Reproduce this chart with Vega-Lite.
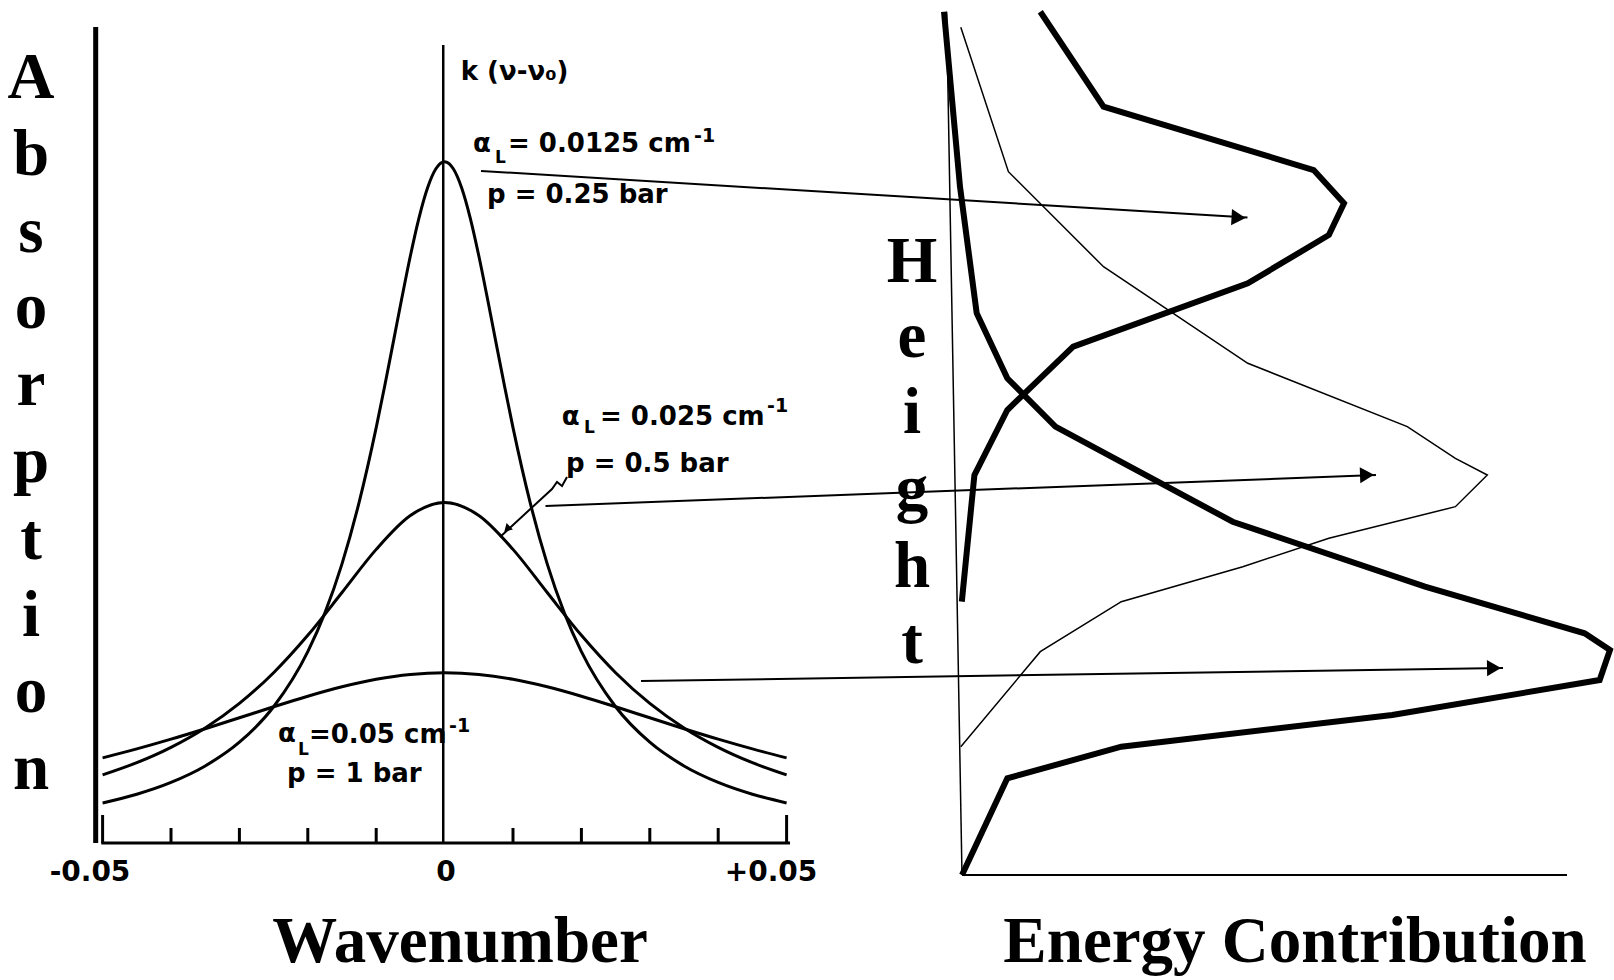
{
  "$schema": "https://vega.github.io/schema/vega-lite/v6.json",
  "width": 1614,
  "height": 980,
  "autosize": {"type": "none"},
  "padding": 0,
  "background": "white",
  "config": {"view": {"stroke": null}},
  "resolve": {"scale": {"x": "independent", "y": "independent"}},
  "layer": [
    {
      "data": {"values": [{"nu": -0.05101, "k": 4.7915, "nu2": -0.05101, "k2": 0}]},
      "mark": {"type": "rule", "color": "black", "strokeWidth": 5},
      "encoding": {
        "x": {"field": "nu", "type": "quantitative", "scale": {"domain": [-0.065, 0.170965], "nice": false, "zero": false}, "axis": null},
        "x2": {"field": "nu2"},
        "y": {"field": "k", "type": "quantitative", "scale": {"domain": [-0.80446, 4.95009], "nice": false, "zero": false}, "axis": null},
        "y2": {"field": "k2"}
      }
    },
    {
      "data": {"values": [
        {"nu": -0.0502, "k": 0, "nu2": 0.0505, "k2": 0},
        {"nu": -0.05, "k": 0, "nu2": -0.05, "k2": 0.1644},
        {"nu": -0.04, "k": 0, "nu2": -0.04, "k2": 0.0881},
        {"nu": -0.03, "k": 0, "nu2": -0.03, "k2": 0.0881},
        {"nu": -0.02, "k": 0, "nu2": -0.02, "k2": 0.0881},
        {"nu": -0.01, "k": 0, "nu2": -0.01, "k2": 0.0881},
        {"nu": 0.01, "k": 0, "nu2": 0.01, "k2": 0.0881},
        {"nu": 0.02, "k": 0, "nu2": 0.02, "k2": 0.0881},
        {"nu": 0.03, "k": 0, "nu2": 0.03, "k2": 0.0881},
        {"nu": 0.04, "k": 0, "nu2": 0.04, "k2": 0.0881},
        {"nu": 0.05, "k": 0, "nu2": 0.05, "k2": 0.1644}
      ]},
      "mark": {"type": "rule", "color": "black", "strokeWidth": 3},
      "encoding": {
        "x": {"field": "nu", "type": "quantitative", "scale": {"domain": [-0.065, 0.170965], "nice": false, "zero": false}, "axis": null},
        "x2": {"field": "nu2"},
        "y": {"field": "k", "type": "quantitative", "scale": {"domain": [-0.80446, 4.95009], "nice": false, "zero": false}, "axis": null},
        "y2": {"field": "k2"}
      }
    },
    {
      "data": {"values": [{"nu": -0.0002, "k": 4.6858, "nu2": -0.0002, "k2": 0}]},
      "mark": {"type": "rule", "color": "black", "strokeWidth": 2.5},
      "encoding": {
        "x": {"field": "nu", "type": "quantitative", "scale": {"domain": [-0.065, 0.170965], "nice": false, "zero": false}, "axis": null},
        "x2": {"field": "nu2"},
        "y": {"field": "k", "type": "quantitative", "scale": {"domain": [-0.80446, 4.95009], "nice": false, "zero": false}, "axis": null},
        "y2": {"field": "k2"}
      }
    },
    {
      "data": {"values": [
        {"l": "c", "nu": -0.05, "k": 0.5}, {"l": "c", "nu": -0.045, "k": 0.55249}, {"l": "c", "nu": -0.04, "k": 0.60976}, {"l": "c", "nu": -0.035, "k": 0.67114}, {"l": "c", "nu": -0.03, "k": 0.73529}, {"l": "c", "nu": -0.025, "k": 0.8}, {"l": "c", "nu": -0.02, "k": 0.86207}, {"l": "c", "nu": -0.015, "k": 0.91743}, {"l": "c", "nu": -0.01, "k": 0.96154}, {"l": "c", "nu": -0.005, "k": 0.9901}, {"l": "c", "nu": 0, "k": 1},
        {"l": "c", "nu": 0.005, "k": 0.9901}, {"l": "c", "nu": 0.01, "k": 0.96154}, {"l": "c", "nu": 0.015, "k": 0.91743}, {"l": "c", "nu": 0.02, "k": 0.86207}, {"l": "c", "nu": 0.025, "k": 0.8}, {"l": "c", "nu": 0.03, "k": 0.73529}, {"l": "c", "nu": 0.035, "k": 0.67114}, {"l": "c", "nu": 0.04, "k": 0.60976}, {"l": "c", "nu": 0.045, "k": 0.55249}, {"l": "c", "nu": 0.05, "k": 0.5},
        {"l": "b", "nu": -0.05, "k": 0.4}, {"l": "b", "nu": -0.045, "k": 0.4717}, {"l": "b", "nu": -0.04, "k": 0.5618}, {"l": "b", "nu": -0.035, "k": 0.67568}, {"l": "b", "nu": -0.03, "k": 0.81967}, {"l": "b", "nu": -0.025, "k": 1}, {"l": "b", "nu": -0.02, "k": 1.21951}, {"l": "b", "nu": -0.015, "k": 1.47059}, {"l": "b", "nu": -0.01, "k": 1.72414}, {"l": "b", "nu": -0.005, "k": 1.92308}, {"l": "b", "nu": 0, "k": 2},
        {"l": "b", "nu": 0.005, "k": 1.92308}, {"l": "b", "nu": 0.01, "k": 1.72414}, {"l": "b", "nu": 0.015, "k": 1.47059}, {"l": "b", "nu": 0.02, "k": 1.21951}, {"l": "b", "nu": 0.025, "k": 1}, {"l": "b", "nu": 0.03, "k": 0.81967}, {"l": "b", "nu": 0.035, "k": 0.67568}, {"l": "b", "nu": 0.04, "k": 0.5618}, {"l": "b", "nu": 0.045, "k": 0.4717}, {"l": "b", "nu": 0.05, "k": 0.4},
        {"l": "a", "nu": -0.05, "k": 0.23529}, {"l": "a", "nu": -0.045, "k": 0.28653}, {"l": "a", "nu": -0.04, "k": 0.35587}, {"l": "a", "nu": -0.035, "k": 0.45249}, {"l": "a", "nu": -0.03, "k": 0.59172}, {"l": "a", "nu": -0.025, "k": 0.8}, {"l": "a", "nu": -0.02, "k": 1.1236}, {"l": "a", "nu": -0.0175, "k": 1.35135}, {"l": "a", "nu": -0.015, "k": 1.63934}, {"l": "a", "nu": -0.0125, "k": 2}, {"l": "a", "nu": -0.01, "k": 2.43902}, {"l": "a", "nu": -0.00875, "k": 2.68456}, {"l": "a", "nu": -0.0075, "k": 2.94118}, {"l": "a", "nu": -0.00625, "k": 3.2}, {"l": "a", "nu": -0.005, "k": 3.44828}, {"l": "a", "nu": -0.00375, "k": 3.66972}, {"l": "a", "nu": -0.0025, "k": 3.84615}, {"l": "a", "nu": -0.00125, "k": 3.9604}, {"l": "a", "nu": 0, "k": 4},
        {"l": "a", "nu": 0.00125, "k": 3.9604}, {"l": "a", "nu": 0.0025, "k": 3.84615}, {"l": "a", "nu": 0.00375, "k": 3.66972}, {"l": "a", "nu": 0.005, "k": 3.44828}, {"l": "a", "nu": 0.00625, "k": 3.2}, {"l": "a", "nu": 0.0075, "k": 2.94118}, {"l": "a", "nu": 0.00875, "k": 2.68456}, {"l": "a", "nu": 0.01, "k": 2.43902}, {"l": "a", "nu": 0.0125, "k": 2}, {"l": "a", "nu": 0.015, "k": 1.63934}, {"l": "a", "nu": 0.0175, "k": 1.35135}, {"l": "a", "nu": 0.02, "k": 1.1236}, {"l": "a", "nu": 0.025, "k": 0.8}, {"l": "a", "nu": 0.03, "k": 0.59172}, {"l": "a", "nu": 0.035, "k": 0.45249}, {"l": "a", "nu": 0.04, "k": 0.35587}, {"l": "a", "nu": 0.045, "k": 0.28653}, {"l": "a", "nu": 0.05, "k": 0.23529}
      ]},
      "mark": {"type": "line", "color": "black", "strokeWidth": 3, "interpolate": "monotone"},
      "encoding": {
        "x": {"field": "nu", "type": "quantitative", "scale": {"domain": [-0.065, 0.170965], "nice": false, "zero": false}, "axis": null},
        "y": {"field": "k", "type": "quantitative", "scale": {"domain": [-0.80446, 4.95009], "nice": false, "zero": false}, "axis": null},
        "detail": {"field": "l", "type": "nominal"}
      }
    },
    {
      "data": {"values": [
        {"o": 1, "nu": 0.017895, "k": 2.14915},
        {"o": 2, "nu": 0.017164, "k": 2.0963},
        {"o": 3, "nu": 0.016433, "k": 2.1198},
        {"o": 4, "nu": 0.015702, "k": 2.0787},
        {"o": 5, "nu": 0.008099, "k": 1.79683}
      ]},
      "mark": {"type": "line", "color": "black", "strokeWidth": 2},
      "encoding": {
        "x": {"field": "nu", "type": "quantitative", "scale": {"domain": [-0.065, 0.170965], "nice": false, "zero": false}, "axis": null},
        "y": {"field": "k", "type": "quantitative", "scale": {"domain": [-0.80446, 4.95009], "nice": false, "zero": false}, "axis": null},
        "order": {"field": "o", "type": "quantitative"}
      }
    },
    {
      "data": {"values": [{"nu": 0.009123, "k": 1.8438}]},
      "mark": {"type": "point", "shape": "triangle-right", "angle": 135, "size": 80, "filled": true, "color": "black", "opacity": 1},
      "encoding": {
        "x": {"field": "nu", "type": "quantitative", "scale": {"domain": [-0.065, 0.170965], "nice": false, "zero": false}, "axis": null},
        "y": {"field": "k", "type": "quantitative", "scale": {"domain": [-0.80446, 4.95009], "nice": false, "zero": false}, "axis": null}
      }
    },
    {
      "data": {"values": [
        {"t": "k (ν-ν₀)", "nu": 0.002354, "k": 4.4803},
        {"t": "α", "nu": 0.004152, "k": 4.0593},
        {"t": "= 0.0125 cm", "nu": 0.009269, "k": 4.0593},
        {"t": "p = 0.25 bar", "nu": 0.006199, "k": 3.7581},
        {"t": "α", "nu": 0.01712, "k": 2.4545},
        {"t": "= 0.025 cm", "nu": 0.022719, "k": 2.4545},
        {"t": "p = 0.5 bar", "nu": 0.017749, "k": 2.1785},
        {"t": "α", "nu": -0.024357, "k": 0.59483},
        {"t": "=0.05 cm", "nu": -0.019825, "k": 0.5872},
        {"t": "p = 1 bar", "nu": -0.023041, "k": 0.35995}
      ]},
      "mark": {"type": "text", "font": "DejaVu Sans", "fontWeight": "bold", "fontSize": 26, "align": "left", "baseline": "alphabetic", "color": "black"},
      "encoding": {
        "x": {"field": "nu", "type": "quantitative", "scale": {"domain": [-0.065, 0.170965], "nice": false, "zero": false}, "axis": null},
        "y": {"field": "k", "type": "quantitative", "scale": {"domain": [-0.80446, 4.95009], "nice": false, "zero": false}, "axis": null},
        "text": {"field": "t", "type": "nominal"}
      }
    },
    {
      "data": {"values": [
        {"t": "-1", "nu": 0.036462, "k": 4.11626},
        {"t": "-1", "nu": 0.047135, "k": 2.53083},
        {"t": "-1", "nu": 0.000643, "k": 0.65179}
      ]},
      "mark": {"type": "text", "font": "DejaVu Sans", "fontWeight": "bold", "fontSize": 19, "align": "left", "baseline": "alphabetic", "color": "black"},
      "encoding": {
        "x": {"field": "nu", "type": "quantitative", "scale": {"domain": [-0.065, 0.170965], "nice": false, "zero": false}, "axis": null},
        "y": {"field": "k", "type": "quantitative", "scale": {"domain": [-0.80446, 4.95009], "nice": false, "zero": false}, "axis": null},
        "text": {"field": "t", "type": "nominal"}
      }
    },
    {
      "data": {"values": [
        {"t": "L", "nu": 0.007368, "k": 3.993},
        {"t": "L", "nu": 0.02038, "k": 2.4075},
        {"t": "L", "nu": -0.021433, "k": 0.51674}
      ]},
      "mark": {"type": "text", "font": "DejaVu Sans", "fontWeight": "bold", "fontSize": 17, "align": "left", "baseline": "alphabetic", "color": "black"},
      "encoding": {
        "x": {"field": "nu", "type": "quantitative", "scale": {"domain": [-0.065, 0.170965], "nice": false, "zero": false}, "axis": null},
        "y": {"field": "k", "type": "quantitative", "scale": {"domain": [-0.80446, 4.95009], "nice": false, "zero": false}, "axis": null},
        "text": {"field": "t", "type": "nominal"}
      }
    },
    {
      "data": {"values": [
        {"t": "-0.05", "nu": -0.051842, "k": -0.22314},
        {"t": "0", "nu": 0.0002, "k": -0.22314},
        {"t": "+0.05", "nu": 0.047719, "k": -0.22314}
      ]},
      "mark": {"type": "text", "font": "DejaVu Sans", "fontWeight": "bold", "fontSize": 28, "align": "center", "baseline": "alphabetic", "color": "black"},
      "encoding": {
        "x": {"field": "nu", "type": "quantitative", "scale": {"domain": [-0.065, 0.170965], "nice": false, "zero": false}, "axis": null},
        "y": {"field": "k", "type": "quantitative", "scale": {"domain": [-0.80446, 4.95009], "nice": false, "zero": false}, "axis": null},
        "text": {"field": "t", "type": "nominal"}
      }
    },
    {
      "data": {"values": [
        {"t": "Wavenumber", "nu": 0.002251, "k": -0.69877},
        {"t": "A", "nu": -0.060468, "k": 4.37463},
        {"t": "b", "nu": -0.060468, "k": 3.92249},
        {"t": "s", "nu": -0.060468, "k": 3.47035},
        {"t": "o", "nu": -0.060468, "k": 3.02408},
        {"t": "r", "nu": -0.060468, "k": 2.57193},
        {"t": "p", "nu": -0.060468, "k": 2.11979},
        {"t": "t", "nu": -0.060468, "k": 1.66765},
        {"t": "i", "nu": -0.060468, "k": 1.2155},
        {"t": "o", "nu": -0.060468, "k": 0.76923},
        {"t": "n", "nu": -0.060468, "k": 0.31709}
      ]},
      "mark": {"type": "text", "font": "Liberation Serif", "fontWeight": "bold", "fontSize": 65, "align": "center", "baseline": "alphabetic", "color": "black"},
      "encoding": {
        "x": {"field": "nu", "type": "quantitative", "scale": {"domain": [-0.065, 0.170965], "nice": false, "zero": false}, "axis": null},
        "y": {"field": "k", "type": "quantitative", "scale": {"domain": [-0.80446, 4.95009], "nice": false, "zero": false}, "axis": null},
        "text": {"field": "t", "type": "nominal"}
      }
    },
    {
      "data": {"values": [{"E": -2.545, "h": 99.8, "E2": 0, "h2": 0}]},
      "mark": {"type": "rule", "color": "black", "strokeWidth": 1.5},
      "encoding": {
        "x": {"field": "E", "type": "quantitative", "scale": {"domain": [-159.0083, 107.7686], "nice": false, "zero": false}, "axis": null},
        "x2": {"field": "E2"},
        "y": {"field": "h", "type": "quantitative", "scale": {"domain": [-12.1387, 101.1561], "nice": false, "zero": false}, "axis": null},
        "y2": {"field": "h2"}
      }
    },
    {
      "data": {"values": [{"E": 0, "h": 0, "E2": 100, "h2": 0}]},
      "mark": {"type": "rule", "color": "black", "strokeWidth": 2},
      "encoding": {
        "x": {"field": "E", "type": "quantitative", "scale": {"domain": [-159.0083, 107.7686], "nice": false, "zero": false}, "axis": null},
        "x2": {"field": "E2"},
        "y": {"field": "h", "type": "quantitative", "scale": {"domain": [-12.1387, 101.1561], "nice": false, "zero": false}, "axis": null},
        "y2": {"field": "h2"}
      }
    },
    {
      "data": {"values": [
        {"c": "C", "o": 1, "E": -0.2, "h": 98.0},
        {"c": "C", "o": 2, "E": 7.67, "h": 81.31},
        {"c": "C", "o": 3, "E": 23.39, "h": 70.32},
        {"c": "C", "o": 4, "E": 47.24, "h": 59.16},
        {"c": "C", "o": 5, "E": 73.6, "h": 51.83},
        {"c": "C", "o": 6, "E": 81.55, "h": 48.17},
        {"c": "C", "o": 7, "E": 86.83, "h": 46.24},
        {"c": "C", "o": 8, "E": 81.55, "h": 42.58},
        {"c": "C", "o": 9, "E": 60.64, "h": 38.92},
        {"c": "C", "o": 10, "E": 46.41, "h": 35.64},
        {"c": "C", "o": 11, "E": 26.33, "h": 31.6},
        {"c": "C", "o": 12, "E": 12.94, "h": 25.82},
        {"c": "C", "o": 13, "E": -0.2, "h": 14.83}
      ]},
      "mark": {"type": "line", "color": "black", "strokeWidth": 1.5},
      "encoding": {
        "x": {"field": "E", "type": "quantitative", "scale": {"domain": [-159.0083, 107.7686], "nice": false, "zero": false}, "axis": null},
        "y": {"field": "h", "type": "quantitative", "scale": {"domain": [-12.1387, 101.1561], "nice": false, "zero": false}, "axis": null},
        "detail": {"field": "c", "type": "nominal"},
        "order": {"field": "o", "type": "quantitative"}
      }
    },
    {
      "data": {"values": [
        {"c": "A", "o": 1, "E": -2.975, "h": 99.8},
        {"c": "A", "o": 2, "E": -0.33, "h": 79.57},
        {"c": "A", "o": 3, "E": 2.43, "h": 64.94},
        {"c": "A", "o": 4, "E": 7.49, "h": 57.42},
        {"c": "A", "o": 5, "E": 15.44, "h": 51.83},
        {"c": "A", "o": 6, "E": 44.74, "h": 40.84},
        {"c": "A", "o": 7, "E": 76.53, "h": 33.33},
        {"c": "A", "o": 8, "E": 102.91, "h": 27.94},
        {"c": "A", "o": 9, "E": 107.1, "h": 26.01},
        {"c": "A", "o": 10, "E": 105.4, "h": 22.54},
        {"c": "A", "o": 11, "E": 71.11, "h": 18.5},
        {"c": "A", "o": 12, "E": 26.33, "h": 14.83},
        {"c": "A", "o": 13, "E": 7.49, "h": 11.18},
        {"c": "A", "o": 14, "E": 0, "h": 0},
        {"c": "B", "o": 1, "E": 12.94, "h": 99.8},
        {"c": "B", "o": 2, "E": 23.39, "h": 88.82},
        {"c": "B", "o": 3, "E": 58.13, "h": 81.5},
        {"c": "B", "o": 4, "E": 63.14, "h": 77.65},
        {"c": "B", "o": 5, "E": 60.64, "h": 73.99},
        {"c": "B", "o": 6, "E": 47.24, "h": 68.4},
        {"c": "B", "o": 7, "E": 18.38, "h": 61.08},
        {"c": "B", "o": 8, "E": 7.49, "h": 53.76},
        {"c": "B", "o": 9, "E": 2.05, "h": 46.24},
        {"c": "B", "o": 10, "E": -0.03, "h": 31.6}
      ]},
      "mark": {"type": "line", "color": "black", "strokeWidth": 6},
      "encoding": {
        "x": {"field": "E", "type": "quantitative", "scale": {"domain": [-159.0083, 107.7686], "nice": false, "zero": false}, "axis": null},
        "y": {"field": "h", "type": "quantitative", "scale": {"domain": [-12.1387, 101.1561], "nice": false, "zero": false}, "axis": null},
        "detail": {"field": "c", "type": "nominal"},
        "order": {"field": "o", "type": "quantitative"}
      }
    },
    {
      "data": {"values": [
        {"E": -79.5, "h": 81.39, "E2": 47.19, "h2": 76.01},
        {"E": -68.84, "h": 42.66, "E2": 68.43, "h2": 46.24},
        {"E": -53.06, "h": 22.43, "E2": 89.42, "h2": 23.93}
      ]},
      "mark": {"type": "rule", "color": "black", "strokeWidth": 2},
      "encoding": {
        "x": {"field": "E", "type": "quantitative", "scale": {"domain": [-159.0083, 107.7686], "nice": false, "zero": false}, "axis": null},
        "x2": {"field": "E2"},
        "y": {"field": "h", "type": "quantitative", "scale": {"domain": [-12.1387, 101.1561], "nice": false, "zero": false}, "axis": null},
        "y2": {"field": "h2"}
      }
    },
    {
      "data": {"values": [{"E": 47.19, "h": 76.01}]},
      "mark": {"type": "point", "shape": "triangle-right", "angle": 3.5, "size": 260, "filled": true, "color": "black", "opacity": 1, "xOffset": -9},
      "encoding": {
        "x": {"field": "E", "type": "quantitative", "scale": {"domain": [-159.0083, 107.7686], "nice": false, "zero": false}, "axis": null},
        "y": {"field": "h", "type": "quantitative", "scale": {"domain": [-12.1387, 101.1561], "nice": false, "zero": false}, "axis": null}
      }
    },
    {
      "data": {"values": [{"E": 68.43, "h": 46.24}]},
      "mark": {"type": "point", "shape": "triangle-right", "angle": -2.1, "size": 260, "filled": true, "color": "black", "opacity": 1, "xOffset": -9},
      "encoding": {
        "x": {"field": "E", "type": "quantitative", "scale": {"domain": [-159.0083, 107.7686], "nice": false, "zero": false}, "axis": null},
        "y": {"field": "h", "type": "quantitative", "scale": {"domain": [-12.1387, 101.1561], "nice": false, "zero": false}, "axis": null}
      }
    },
    {
      "data": {"values": [{"E": 89.42, "h": 23.93}]},
      "mark": {"type": "point", "shape": "triangle-right", "angle": -0.9, "size": 260, "filled": true, "color": "black", "opacity": 1, "xOffset": -9},
      "encoding": {
        "x": {"field": "E", "type": "quantitative", "scale": {"domain": [-159.0083, 107.7686], "nice": false, "zero": false}, "axis": null},
        "y": {"field": "h", "type": "quantitative", "scale": {"domain": [-12.1387, 101.1561], "nice": false, "zero": false}, "axis": null}
      }
    },
    {
      "data": {"values": [
        {"t": "Energy Contribution", "E": 55.041, "h": -10.0578},
        {"t": "H", "E": -8.2645, "h": 68.555},
        {"t": "e", "E": -8.2645, "h": 59.884},
        {"t": "i", "E": -8.2645, "h": 51.098},
        {"t": "g", "E": -8.2645, "h": 42.197},
        {"t": "h", "E": -8.2645, "h": 33.295},
        {"t": "t", "E": -8.2645, "h": 24.509}
      ]},
      "mark": {"type": "text", "font": "Liberation Serif", "fontWeight": "bold", "fontSize": 65, "align": "center", "baseline": "alphabetic", "color": "black"},
      "encoding": {
        "x": {"field": "E", "type": "quantitative", "scale": {"domain": [-159.0083, 107.7686], "nice": false, "zero": false}, "axis": null},
        "y": {"field": "h", "type": "quantitative", "scale": {"domain": [-12.1387, 101.1561], "nice": false, "zero": false}, "axis": null},
        "text": {"field": "t", "type": "nominal"}
      }
    }
  ]
}
